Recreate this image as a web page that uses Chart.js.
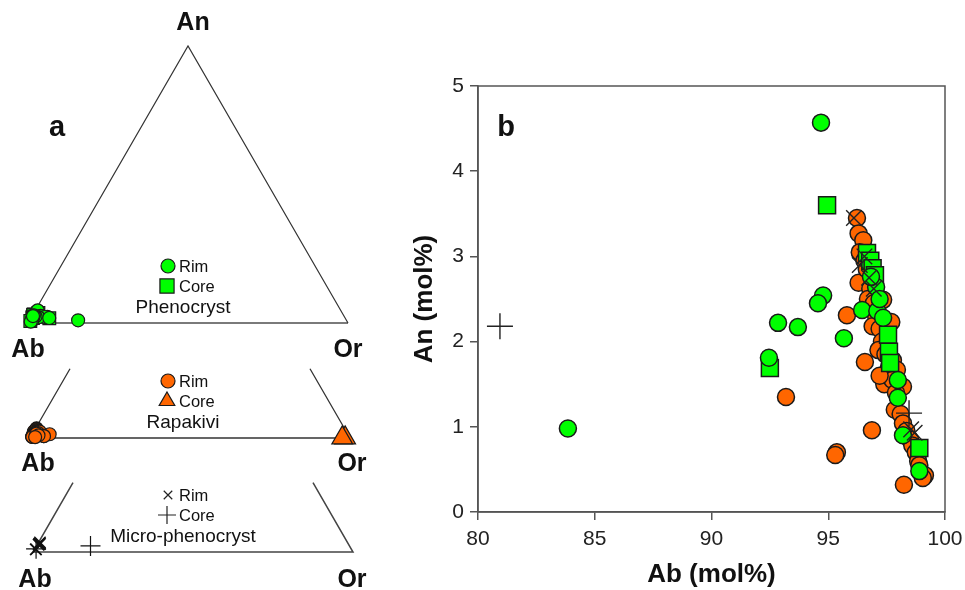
<!DOCTYPE html>
<html>
<head>
<meta charset="utf-8">
<script src="https://cdn.jsdelivr.net/npm/chart.js@4.4.1/dist/chart.umd.min.js"></script>
<style>
  html, body { margin: 0; padding: 0; background: #fff; }
  #wrap { position: relative; width: 965px; height: 590px; }
  #ternary { position: absolute; left: 0; top: 0; }
  #scatter { position: absolute; left: 380px; top: 0; }
</style>
</head>
<body>
<div id="wrap">
  <canvas id="ternary" width="380" height="590"></canvas>
  <canvas id="scatter" width="585" height="590"></canvas>
</div>
<script>
// Feldspar analyses as [Ab, An] in mol%; Or = 100 - Ab - An
const phenoRim = [
  [83.85, 0.98], [94.69, 4.57], [94.78, 2.54], [94.56, 2.45], [92.85, 2.22],
  [93.70, 2.17], [95.67, 2.04], [92.46, 1.81], [96.45, 2.37], [97.10, 2.36],
  [97.35, 2.28], [97.05, 2.64], [96.83, 2.76], [97.98, 1.55], [97.98, 1.34],
  [98.20, 0.90], [98.90, 0.48], [97.20, 2.50]
];
const phenoCore = [
  [94.95, 3.60], [92.50, 1.69], [96.66, 3.04], [96.80, 2.95], [96.90, 2.86],
  [97.00, 2.78], [97.56, 2.08], [97.60, 1.88], [97.65, 1.75], [98.90, 0.75]
];
const rapaRim = [
  [96.23, 3.45], [96.30, 3.27], [96.50, 3.19], [96.35, 3.05], [96.55, 2.95],
  [96.30, 2.69], [96.65, 2.85], [96.80, 2.62], [96.70, 2.50], [96.95, 2.45],
  [97.05, 2.30], [96.90, 2.18], [97.20, 2.15], [97.35, 2.49], [97.30, 2.00],
  [97.70, 2.23], [97.15, 1.90], [97.45, 1.85], [97.77, 1.78], [97.60, 1.70],
  [97.94, 1.67], [97.40, 1.50], [97.75, 1.55], [98.20, 1.47], [97.90, 1.40],
  [97.85, 1.20], [98.10, 1.15], [98.20, 1.04], [98.35, 0.95], [98.50, 0.85],
  [98.60, 0.78], [98.75, 0.70], [98.85, 0.60], [98.90, 0.55], [99.00, 0.45],
  [99.14, 0.43], [99.05, 0.40],
  [95.80, 2.31], [96.57, 1.76], [97.20, 1.60], [93.19, 1.35], [95.37, 0.70],
  [95.30, 0.67], [96.87, 0.96], [98.24, 0.32]
];
const rapaCore = [[1.5, 0.05], [2.4, 0.05]];
const microRim = [
  [96.10, 3.45], [96.35, 2.90], [96.55, 3.00], [96.75, 2.75], [96.95, 2.62],
  [98.70, 0.93], [98.55, 0.97]
];
const microCore = [[80.94, 2.18], [98.46, 1.16]];

const abTicks = [80, 85, 90, 95, 100];
const anTicks = [0, 1, 2, 3, 4, 5];

const GREEN = '#00ff00';
const ORANGE = '#ff6600';
const EDGE = '#1a1a1a';
const FONT = 'Liberation Sans, Arial, Helvetica, sans-serif';

Chart.defaults.font.family = FONT;
Chart.defaults.color = '#222';
Chart.defaults.animation = false;

// ---------- panel a: ternary An-Ab-Or ----------
const SIDE = 320;
const HEIGHT = SIDE * Math.sqrt(3) / 2;
// Ab corner of each triangle on the canvas
const origins = [
  { x: 28, y: 323 },
  { x: 30, y: 438 },
  { x: 33, y: 552 }
];

function tern(o, ab, an) {
  const or = 100 - ab - an;
  return { x: o.x + SIDE * (or + an / 2) / 100, y: o.y - HEIGHT * an / 100 };
}

function frameLine(points, color, width) {
  return {
    data: points, showLine: true, pointRadius: 0, borderColor: color,
    borderWidth: width, fill: false, order: 10
  };
}

function ternSet(o, rows, style) {
  return Object.assign({ data: rows.map(r => tern(o, r[0], r[1])), showLine: false }, style);
}

const [o1, o2, o3] = origins;
const ternData = [
  ternSet(o3, microCore, { pointStyle: 'cross', pointRadius: 10, borderColor: '#111', borderWidth: 1.2, order: 0 }),
  ternSet(o3, microRim, { pointStyle: 'crossRot', pointRadius: 8, borderColor: '#111', borderWidth: 1.5, order: 0 }),
  ternSet(o1, phenoRim, { pointStyle: 'circle', pointRadius: 6.5, backgroundColor: GREEN, borderColor: EDGE, borderWidth: 1.2, order: 1 }),
  ternSet(o1, phenoCore, { pointStyle: 'rect', pointRadius: 9, backgroundColor: GREEN, borderColor: EDGE, borderWidth: 1.2, order: 2 }),
  ternSet(o2, rapaRim, { pointStyle: 'circle', pointRadius: 6.5, backgroundColor: ORANGE, borderColor: EDGE, borderWidth: 1.2, order: 3 }),
  ternSet(o2, rapaCore, { pointStyle: 'triangle', pointRadius: 12, backgroundColor: ORANGE, borderColor: EDGE, borderWidth: 1.2, order: 3 }),
  // full triangle for phenocrysts
  frameLine([tern(o1, 100, 0), tern(o1, 0, 100), tern(o1, 0, 0)], '#333', 1.2),
  frameLine([tern(o1, 100, 0), tern(o1, 0, 0)], '#7a7a7a', 2),
  // lower strips for rapakivi and micro-phenocrysts
  frameLine([tern(o2, 75, 25), tern(o2, 100, 0), tern(o2, 0, 0), tern(o2, 0, 25)], '#333', 1.3),
  frameLine([tern(o3, 75, 25), tern(o3, 100, 0), tern(o3, 0, 0), tern(o3, 0, 25)], '#444', 1.5)
];

function drawSymbol(ctx, style, radius, fill, x, y) {
  ctx.save();
  ctx.fillStyle = fill || 'rgba(0,0,0,0)';
  ctx.strokeStyle = style === 'cross' || style === 'crossRot' ? '#222' : EDGE;
  ctx.lineWidth = 1.2;
  Chart.helpers.drawPoint(ctx, { pointStyle: style, radius: radius, borderWidth: 1.2 }, x, y);
  ctx.restore();
}

const ternaryText = {
  id: 'ternaryText',
  afterDraw(chart) {
    const ctx = chart.ctx;
    ctx.save();
    ctx.fillStyle = '#111';
    ctx.textBaseline = 'middle';
    ctx.textAlign = 'center';
    ctx.font = `bold 25px ${FONT}`;
    ctx.fillText('An', 193, 23);
    ctx.fillText('Ab', 28, 350);
    ctx.fillText('Or', 348, 350);
    ctx.fillText('Ab', 38, 464);
    ctx.fillText('Or', 352, 464);
    ctx.fillText('Ab', 35, 580);
    ctx.fillText('Or', 352, 580);
    ctx.font = `bold 29px ${FONT}`;
    ctx.fillText('a', 57, 128);

    const groups = [
      { y: 266, s1: ['circle', 7, GREEN], s2: ['rect', 10, GREEN], name: 'Phenocryst' },
      { y: 381, s1: ['circle', 7, ORANGE], s2: ['triangle', 9, ORANGE], name: 'Rapakivi' },
      { y: 495, s1: ['crossRot', 6, null], s2: ['cross', 9, null], name: 'Micro-phenocryst' }
    ];
    groups.forEach(g => {
      ctx.font = `16.5px ${FONT}`;
      drawSymbol(ctx, g.s1[0], g.s1[1], g.s1[2], 168, g.y);
      drawSymbol(ctx, g.s2[0], g.s2[1], g.s2[2], 167, g.y + 20);
      ctx.fillStyle = '#111';
      ctx.textAlign = 'left';
      ctx.fillText('Rim', 179, g.y + 1);
      ctx.fillText('Core', 179, g.y + 21);
      ctx.textAlign = 'center';
      ctx.font = `19px ${FONT}`;
      ctx.fillText(g.name, 183, g.y + 42);
    });
    ctx.restore();
  }
};

new Chart(document.getElementById('ternary'), {
  type: 'scatter',
  data: { datasets: ternData },
  options: {
    responsive: false,
    events: [],
    layout: { padding: 0, autoPadding: false },
    plugins: { legend: { display: false }, tooltip: { enabled: false } },
    scales: {
      x: { type: 'linear', min: 0, max: 380, display: false },
      y: { type: 'linear', min: 0, max: 590, reverse: true, display: false }
    }
  },
  plugins: [ternaryText]
});

// ---------- panel b: An vs Ab ----------
const xy = rows => rows.map(r => ({ x: r[0], y: r[1] }));

const boxFrame = {
  id: 'boxFrame',
  afterDraw(chart) {
    const { ctx, chartArea: a } = chart;
    ctx.save();
    ctx.strokeStyle = '#555';
    ctx.lineWidth = 1.5;
    ctx.strokeRect(a.left, a.top, a.right - a.left, a.bottom - a.top);
    ctx.fillStyle = '#111';
    ctx.font = `bold 29px ${FONT}`;
    ctx.textAlign = 'center';
    ctx.textBaseline = 'middle';
    ctx.fillText('b', 126, 128);
    ctx.restore();
  }
};

const axisStyle = {
  grid: { drawOnChartArea: false, drawTicks: true, tickLength: 8, color: '#555', lineWidth: 1.5 },
  border: { color: '#555', width: 1.5 }
};

new Chart(document.getElementById('scatter'), {
  type: 'scatter',
  data: {
    datasets: [
      { data: xy(microCore), pointStyle: 'cross', pointRadius: 13, borderColor: '#222', borderWidth: 1.4 },
      { data: xy(microRim), pointStyle: 'crossRot', pointRadius: 11, borderColor: '#222', borderWidth: 1.4 },
      { data: xy(phenoRim), pointStyle: 'circle', pointRadius: 8.5, backgroundColor: GREEN, borderColor: EDGE, borderWidth: 1.5 },
      { data: xy(phenoCore), pointStyle: 'rect', pointRadius: 12, backgroundColor: GREEN, borderColor: EDGE, borderWidth: 1.5 },
      { data: xy(rapaRim), pointStyle: 'circle', pointRadius: 8.5, backgroundColor: ORANGE, borderColor: EDGE, borderWidth: 1.5 },
      { data: xy(rapaCore), pointStyle: 'triangle', pointRadius: 12, backgroundColor: ORANGE, borderColor: EDGE, borderWidth: 1.5 }
    ]
  },
  options: {
    responsive: false,
    events: [],
    layout: { padding: { left: 0, right: 20, top: 86, bottom: 0 }, autoPadding: false },
    plugins: { legend: { display: false }, tooltip: { enabled: false } },
    scales: {
      x: Object.assign({
        type: 'linear', min: 80, max: 100,
        afterBuildTicks: s => { s.ticks = abTicks.map(v => ({ value: v })); },
        afterFit: s => { s.height = 78; s.paddingLeft = 0; s.paddingRight = 0; },
        ticks: { font: { size: 21 }, color: '#222', padding: 7, maxRotation: 0 },
        title: { display: true, text: 'Ab (mol%)', font: { size: 26, weight: 'bold' }, color: '#111', padding: { top: 0, bottom: 0 } }
      }, axisStyle),
      y: Object.assign({
        type: 'linear', min: 0, max: 5,
        afterBuildTicks: s => { s.ticks = anTicks.map(v => ({ value: v })); },
        afterFit: s => { s.width = 98; s.paddingTop = 0; s.paddingBottom = 0; },
        ticks: { font: { size: 21 }, color: '#222', padding: 6 },
        title: { display: true, text: 'An (mol%)', font: { size: 26, weight: 'bold' }, color: '#111', padding: { top: 29, bottom: 0 } }
      }, axisStyle)
    }
  },
  plugins: [boxFrame]
});
</script>
</body>
</html>
